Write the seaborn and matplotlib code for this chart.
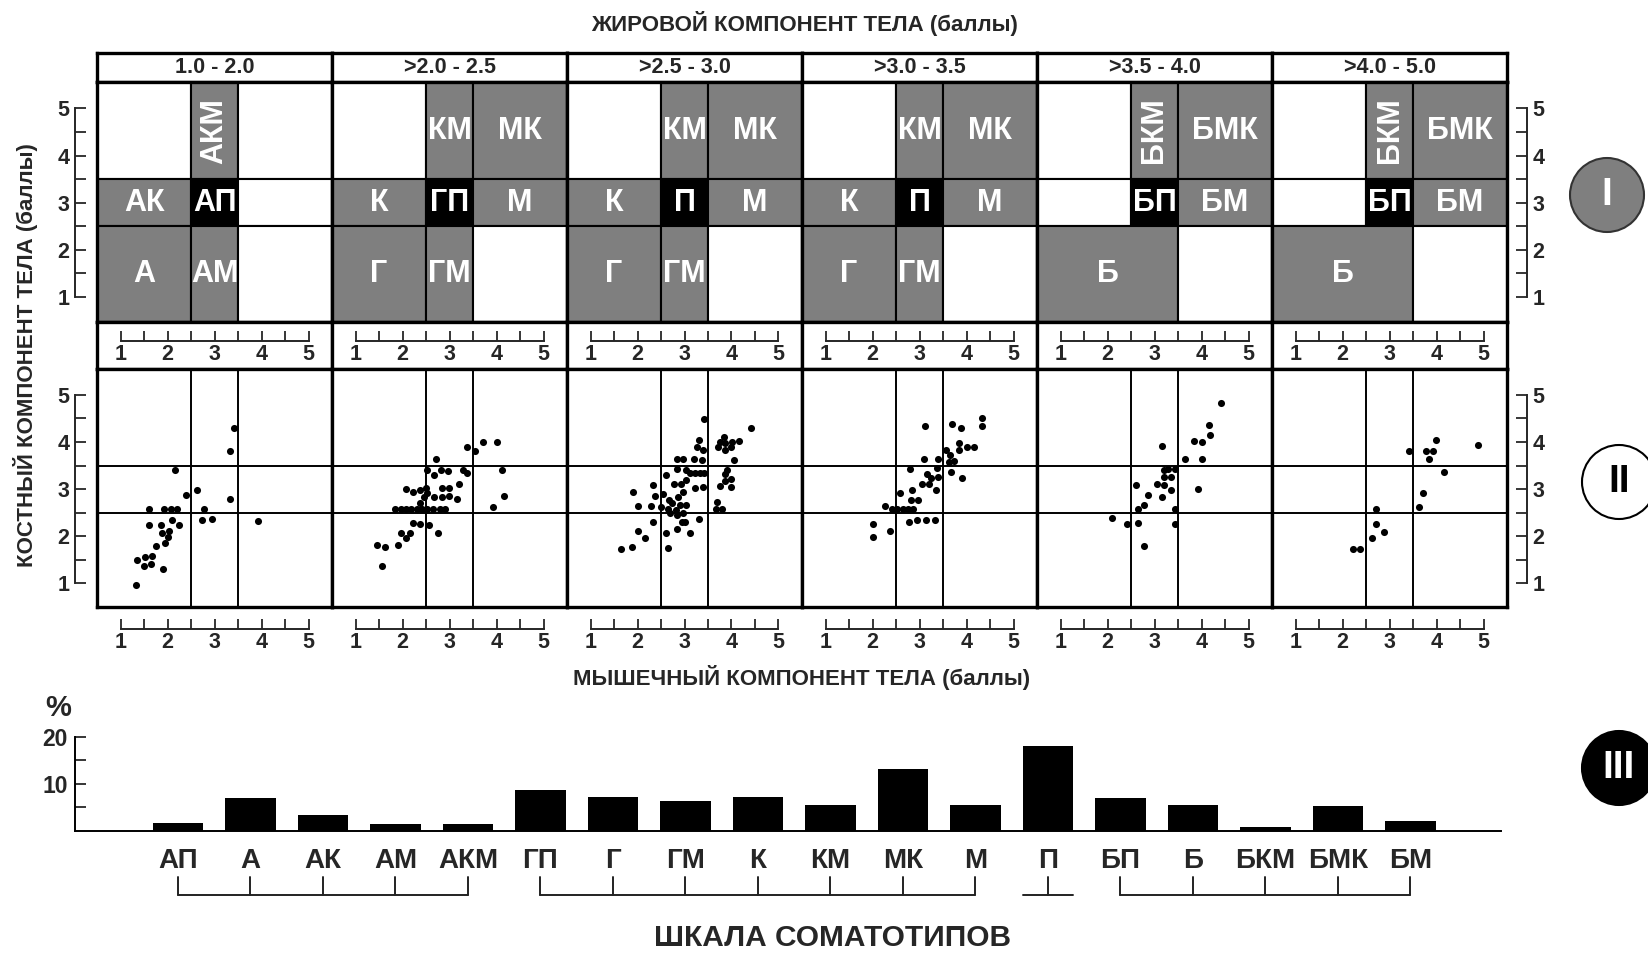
import matplotlib
matplotlib.use("Agg")
import matplotlib.pyplot as plt
from matplotlib.patches import Rectangle, Circle
import seaborn as sns

sns.set_style("white")
plt.rcParams["font.family"] = ["Liberation Sans", "DejaVu Sans"]
plt.rcParams["font.weight"] = "bold"

# ---------------------------------------------------------------- data
fat_ranges = ["1.0 - 2.0", ">2.0 - 2.5", ">2.5 - 3.0",
              ">3.0 - 3.5", ">3.5 - 4.0", ">4.0 - 5.0"]

# somatotype map for each fat class: rows top (bone > 3.5) to bottom (bone < 2.5),
# columns left (muscle < 2.5) to right (muscle > 3.5); equal neighbours are merged
grid_fat_1 = [["", "АКМ", ""], ["АК", "АП", ""], ["А", "АМ", ""]]
grid_fat_2 = [["", "КМ", "МК"], ["К", "ГП", "М"], ["Г", "ГМ", ""]]
grid_fat_3 = [["", "КМ", "МК"], ["К", "П", "М"], ["Г", "ГМ", ""]]
grid_fat_4 = [["", "КМ", "МК"], ["К", "П", "М"], ["Г", "ГМ", ""]]
grid_fat_5 = [["", "БКМ", "БМК"], ["", "БП", "БМ"], ["Б", "Б", ""]]
grid_fat_6 = [["", "БКМ", "БМК"], ["", "БП", "БМ"], ["Б", "Б", ""]]
grids = [grid_fat_1, grid_fat_2, grid_fat_3, grid_fat_4, grid_fat_5, grid_fat_6]

component_cuts = [2.5, 3.5]

# individual scores: muscle (x) and bone (y) component per fat class
muscle_1 = [1.32, 1.36, 1.50, 1.52, 1.64, 1.68, 1.60, 1.60, 1.75, 1.90,
            1.87, 1.88, 1.94, 2.00, 2.04, 1.93, 2.08, 2.21, 2.09, 2.24,
            2.15, 2.39, 2.63, 2.77, 2.73, 2.94, 3.32, 3.32, 3.41, 3.92]
bone_1 = [0.96, 1.50, 1.37, 1.57, 1.41, 1.58, 2.59, 2.25, 1.80, 1.30,
          2.25, 2.06, 1.85, 1.99, 2.11, 2.59, 2.59, 2.59, 2.34, 2.25,
          3.41, 2.87, 2.98, 2.59, 2.34, 2.37, 2.80, 3.82, 4.30, 2.32]

muscle_2 = [1.46, 1.63, 1.57, 1.91, 1.97, 2.07, 2.16, 2.22, 2.38, 2.57,
            2.75, 2.07, 2.23, 2.38, 2.50, 2.53, 2.37, 1.85, 1.97, 2.08,
            2.19, 2.31, 2.42, 2.53, 2.65, 2.80, 2.91, 2.52, 2.72, 2.67,
            2.82, 2.97, 2.67, 2.84, 2.99, 2.84, 2.99, 3.15, 3.21, 3.29,
            3.38, 3.37, 3.55, 3.71, 4.01, 4.12, 4.16, 3.93, 2.46]
bone_2 = [1.81, 1.78, 1.38, 1.81, 2.08, 1.96, 2.08, 2.29, 2.27, 2.24,
          2.06, 3.00, 2.93, 2.98, 3.02, 2.91, 2.70, 2.59, 2.59, 2.59,
          2.59, 2.59, 2.59, 2.59, 2.59, 2.59, 2.59, 3.41, 3.64, 3.30,
          3.41, 3.38, 2.84, 2.84, 2.85, 3.02, 3.02, 2.80, 3.11, 3.41,
          3.35, 3.90, 3.81, 4.01, 4.01, 3.41, 2.85, 2.63, 2.84]

muscle_3 = [1.64, 1.89, 2.00, 2.15, 2.65, 2.60, 2.85, 3.11, 2.34, 1.91,
            2.00, 2.28, 2.34, 2.37, 2.49, 2.55, 2.60, 2.66, 2.65, 2.74,
            2.77, 2.81, 2.87, 2.90, 2.92, 2.96, 2.95, 3.04, 2.96, 2.85,
            2.96, 2.85, 3.04, 3.04, 3.11, 3.20, 3.23, 3.23, 3.30, 3.32,
            3.38, 3.42, 3.40, 3.42, 3.30, 3.26, 3.40, 3.70, 3.68, 3.79,
            3.75, 3.87, 3.91, 3.87, 3.98, 3.98, 4.06, 3.72, 3.83, 3.75,
            3.87, 3.98, 4.02, 4.17, 3.87, 4.41, 2.70, 2.85, 3.00]
bone_3 = [1.74, 1.78, 2.11, 1.97, 1.76, 2.08, 2.15, 2.06, 2.30, 2.93,
          2.64, 2.64, 3.09, 2.86, 2.63, 2.90, 3.31, 2.77, 2.59, 2.70,
          3.12, 2.56, 2.84, 2.66, 3.12, 2.49, 2.31, 2.66, 2.95, 3.64,
          3.64, 3.43, 3.41, 3.19, 3.35, 3.64, 3.35, 3.02, 2.37, 3.35,
          3.62, 3.35, 3.05, 4.49, 4.04, 3.89, 3.83, 2.73, 2.59, 2.59,
          3.07, 3.32, 3.41, 3.18, 3.21, 3.05, 3.62, 3.90, 4.11, 4.01,
          3.83, 3.89, 4.01, 4.03, 3.97, 4.30, 2.49, 2.45, 2.31]

muscle_4 = [2.00, 2.00, 2.37, 2.27, 2.42, 2.53, 2.65, 2.76, 2.87, 2.78,
            2.95, 3.14, 3.32, 2.59, 2.82, 2.97, 2.83, 3.06, 3.21, 2.80,
            3.10, 3.16, 3.25, 3.35, 3.40, 3.38, 3.40, 3.57, 3.65, 3.63,
            3.74, 3.66, 3.91, 3.85, 4.00, 4.15, 3.85, 3.70, 3.89, 4.33,
            4.33, 3.12]
bone_4 = [2.26, 1.99, 2.11, 2.64, 2.59, 2.59, 2.59, 2.59, 2.59, 2.30,
          2.34, 2.34, 2.34, 2.91, 2.78, 2.78, 2.98, 3.11, 3.11, 3.42,
          3.65, 3.32, 3.23, 2.98, 3.26, 3.44, 3.63, 3.83, 3.72, 3.58,
          3.60, 3.37, 3.23, 3.83, 3.90, 3.90, 3.99, 4.38, 4.29, 4.52,
          4.33, 4.34]

muscle_5 = [2.10, 2.41, 2.64, 2.77, 2.64, 2.77, 2.60, 2.87, 3.05, 3.15,
            3.20, 3.15, 3.20, 3.20, 3.35, 3.35, 3.43, 3.43, 3.43, 3.64,
            3.85, 4.01, 4.01, 3.92, 4.18, 4.15, 4.41, 3.29]
bone_5 = [2.38, 2.26, 2.29, 1.79, 2.57, 2.66, 3.09, 2.88, 3.11, 2.84,
          3.09, 3.91, 3.41, 3.26, 3.26, 2.99, 3.43, 2.57, 2.26, 3.63,
          4.02, 4.00, 3.64, 3.00, 4.14, 4.36, 4.82, 3.43]

muscle_6 = [2.22, 2.38, 2.62, 2.71, 2.72, 2.88, 3.42, 3.63, 3.71, 3.78,
            3.92, 3.83, 3.98, 4.15, 4.88]
bone_6 = [1.74, 1.74, 1.96, 2.27, 2.57, 2.09, 3.81, 2.62, 2.91, 3.82,
          3.82, 3.64, 4.04, 3.37, 3.93]

muscle_scores = [muscle_1, muscle_2, muscle_3, muscle_4, muscle_5, muscle_6]
bone_scores = [bone_1, bone_2, bone_3, bone_4, bone_5, bone_6]

score_ticks = [1, 2, 3, 4, 5]
score_minor = [1.5, 2.5, 3.5, 4.5]

somatotypes = ["АП", "А", "АК", "АМ", "АКМ", "ГП", "Г", "ГМ", "К", "КМ",
               "МК", "М", "П", "БП", "Б", "БКМ", "БМК", "БМ"]
share_pct = [1.6, 7.1, 3.4, 1.4, 1.4, 8.7, 7.2, 6.4, 7.2, 5.5,
             13.2, 5.5, 18.0, 7.0, 5.5, 0.9, 5.3, 2.2]
bracket_groups = [("АП", "АКМ"), ("ГП", "М"), ("П", "П"), ("БП", "БМ")]

# ---------------------------------------------------------------- layout
W, H = 1648, 956
fig = plt.figure(figsize=(W / 100, H / 100), dpi=100)

GRAY = "#7f7f7f"
FRAME_LW = 2.4
XLIM = (0.5, 5.5)
GRID_YLIM = (0.47, 5.56)
SCAT_YLIM = (0.5, 5.55)
NUM_SIZE = 15.5
CELL_SIZE = 22


def rect(x0, y0, x1, y1):
    return [x0 / W, 1 - y1 / H, (x1 - x0) / W, (y1 - y0) / H]


def boxed(ax):
    ax.set_xticks([])
    ax.set_yticks([])
    for s in ax.spines.values():
        s.set_visible(True)
        s.set_linewidth(FRAME_LW)
        s.set_color("black")


def draw_grid(ax, layout):
    xe = [XLIM[0], component_cuts[0], component_cuts[1], XLIM[1]]
    ye = [GRID_YLIM[1], component_cuts[1], component_cuts[0], GRID_YLIM[0]]
    for r, row in enumerate(layout):
        c = 0
        while c < 3:
            lab = row[c]
            span = 1
            while lab and c + span < 3 and row[c + span] == lab:
                span += 1
            x0, x1 = xe[c], xe[c + span]
            y1, y0 = ye[r], ye[r + 1]
            if not lab:
                face = "white"
            elif r == 1 and c == 1:
                face = "black"
            else:
                face = GRAY
            ax.add_patch(Rectangle((x0, y0), x1 - x0, y1 - y0, facecolor=face,
                                   edgecolor="black", lw=1.5, zorder=1))
            if lab:
                rot = 90 if (x1 - x0) < 1.5 and len(lab) > 2 else 0
                ax.text((x0 + x1) / 2, (y0 + y1) / 2, lab, color="white",
                        ha="center", va="center", fontsize=CELL_SIZE,
                        fontweight="bold", rotation=rot, zorder=2)
            c += span


def x_scale(x0, x1, y_spine):
    a = fig.add_axes(rect(x0, y_spine - 12, x1, y_spine))
    a.set_xlim(*XLIM)
    a.set_ylim(0, 1)
    a.patch.set_visible(False)
    for s in ["top", "left", "right"]:
        a.spines[s].set_visible(False)
    a.spines["bottom"].set_visible(True)
    a.spines["bottom"].set_bounds(1, 5)
    a.spines["bottom"].set_linewidth(1.4)
    a.set_xticks(score_ticks)
    a.set_xticks(score_minor, minor=True)
    a.set_yticks([])
    a.tick_params(axis="x", which="both", direction="in", bottom=True,
                  length=7, width=1.3, labelsize=NUM_SIZE, pad=2)


def y_scale(x_spine, y0, y1, ylim, side):
    if side == "left":
        a = fig.add_axes(rect(x_spine, y0, x_spine + 12, y1))
    else:
        a = fig.add_axes(rect(x_spine - 12, y0, x_spine, y1))
    a.set_ylim(*ylim)
    a.set_xlim(0, 1)
    a.patch.set_visible(False)
    for s in a.spines:
        a.spines[s].set_visible(s == side)
    a.spines[side].set_bounds(1, 5)
    a.spines[side].set_linewidth(1.4)
    a.set_yticks(score_ticks)
    a.set_yticks(score_minor, minor=True)
    a.set_xticks([])
    a.tick_params(axis="y", which="both", direction="in", length=8, width=1.3,
                  labelsize=NUM_SIZE, pad=4,
                  left=(side == "left"), right=(side == "right"),
                  labelleft=(side == "left"), labelright=(side == "right"))


# ---------------------------------------------------------------- panels
PANEL_X0, PANEL_W = 97, 235
for k in range(6):
    x0 = PANEL_X0 + PANEL_W * k
    x1 = x0 + PANEL_W

    # fat class header
    ah = fig.add_axes(rect(x0, 53, x1, 82))
    boxed(ah)
    ah.text(0.5, 0.5, fat_ranges[k], transform=ah.transAxes, ha="center",
            va="center", fontsize=15.5, fontweight="bold")

    # somatotype map
    ag = fig.add_axes(rect(x0, 82, x1, 322))
    ag.set_xlim(*XLIM)
    ag.set_ylim(*GRID_YLIM)
    draw_grid(ag, grids[k])
    boxed(ag)

    # boxed muscle scale between the two rows
    ar = fig.add_axes(rect(x0, 322, x1, 369))
    boxed(ar)
    x_scale(x0, x1, 341)

    # individual scores
    asc = fig.add_axes(rect(x0, 369, x1, 607))
    for c in component_cuts:
        asc.axvline(c, color="black", lw=1.4, zorder=1)
        asc.axhline(c, color="black", lw=1.4, zorder=1)
    sns.scatterplot(x=muscle_scores[k], y=bone_scores[k], color="black",
                    s=26, linewidth=0, ax=asc, zorder=3)
    asc.set_xlim(*XLIM)
    asc.set_ylim(*SCAT_YLIM)
    asc.set_xlabel("")
    asc.set_ylabel("")
    boxed(asc)

    # muscle scale under the scatter row
    x_scale(x0, x1, 629)

# bone scales on both sides
y_scale(75, 82, 322, GRID_YLIM, "left")
y_scale(75, 369, 607, SCAT_YLIM, "left")
y_scale(1527, 82, 322, GRID_YLIM, "right")
y_scale(1527, 369, 607, SCAT_YLIM, "right")

# ---------------------------------------------------------------- bar chart
BAR_XLIM = (-1.42, 18.25)
axb = fig.add_axes(rect(75, 736.7, 1501, 831))
sns.barplot(x=somatotypes, y=share_pct, order=somatotypes, color="black",
            saturation=1, width=0.7, linewidth=0, ax=axb)
axb.set_xlim(*BAR_XLIM)
axb.set_ylim(0, 20)
axb.set_xlabel("")
axb.set_ylabel("")
axb.patch.set_visible(False)
for s in ["top", "right"]:
    axb.spines[s].set_visible(False)
for s in ["left", "bottom"]:
    axb.spines[s].set_visible(True)
    axb.spines[s].set_linewidth(1.4)
    axb.spines[s].set_color("black")
axb.spines["left"].set_bounds(0, 20)
axb.set_yticks([10, 20])
axb.set_yticks([5, 15], minor=True)
axb.tick_params(axis="y", which="both", direction="in", left=True, length=8,
                width=1.3, labelsize=16.5, pad=5)
axb.tick_params(axis="x", length=0, pad=12, labelsize=20)
for t in axb.get_xticklabels():
    t.set_fontweight("bold")

# group brackets under the somatotype names
axk = fig.add_axes(rect(75, 870, 1501, 900))
axk.set_xlim(*BAR_XLIM)
axk.set_ylim(900, 870)
axk.axis("off")
for first, last in bracket_groups:
    i0, i1 = somatotypes.index(first), somatotypes.index(last)
    if i0 == i1:
        axk.plot([i0 - 0.35, i1 + 0.35], [895, 895], color="#222222", lw=1.4)
    else:
        axk.plot([i0, i1], [895, 895], color="#222222", lw=1.4)
    for i in range(i0, i1 + 1):
        axk.plot([i, i], [877, 895], color="#222222", lw=1.4)

# ---------------------------------------------------------------- labels and section marks
ov = fig.add_axes([0, 0, 1, 1])
ov.set_xlim(0, W)
ov.set_ylim(H, 0)
ov.axis("off")
ov.text(805, 23, "ЖИРОВОЙ КОМПОНЕНТ ТЕЛА (баллы)", ha="center", va="center",
        fontsize=16, fontweight="bold")
ov.text(802, 678, "МЫШЕЧНЫЙ КОМПОНЕНТ ТЕЛА (баллы)", ha="center", va="center",
        fontsize=16, fontweight="bold")
ov.text(26, 355, "КОСТНЫЙ КОМПОНЕНТ ТЕЛА (баллы)", ha="center", va="center",
        rotation=90, fontsize=16, fontweight="bold")
ov.text(58, 708, "%", ha="center", va="center", fontsize=21, fontweight="bold")
ov.text(833, 938, "ШКАЛА СОМАТОТИПОВ", ha="center", va="center",
        fontsize=21.5, fontweight="bold")

ov.add_patch(Circle((1607, 195), 37, facecolor=GRAY, edgecolor="#333333", lw=1.5))
ov.text(1607, 195, "I", ha="center", va="center", color="white",
        fontsize=28, fontweight="bold")
ov.add_patch(Circle((1619, 482), 37, facecolor="white", edgecolor="black", lw=1.5))
ov.text(1619, 482, "II", ha="center", va="center", color="black",
        fontsize=28, fontweight="bold")
ov.add_patch(Circle((1619, 768), 37, facecolor="black", edgecolor="black", lw=1.5))
ov.text(1619, 768, "III", ha="center", va="center", color="white",
        fontsize=28, fontweight="bold")

fig.savefig("out.png", dpi=100)
